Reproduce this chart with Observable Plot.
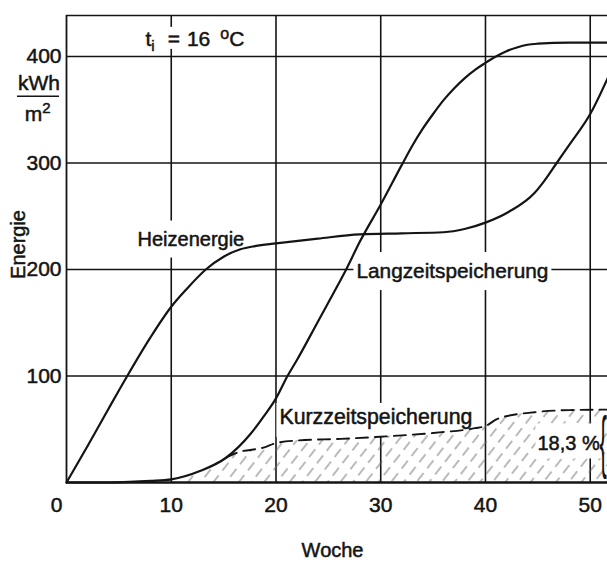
<!DOCTYPE html>
<html>
<head>
<meta charset="utf-8">
<script src="https://cdn.jsdelivr.net/npm/d3@7"></script>
<script src="https://cdn.jsdelivr.net/npm/@observablehq/plot@0.6"></script>
<style>
  html, body { margin: 0; padding: 0; background: #fff; }
  svg { display: block; }
</style>
</head>
<body>
<div id="chart"></div>
<script>
// ---- data ----
const heizWoche = [0, 2, 4, 5.8, 8, 10, 11.5, 13.3, 15, 16.6, 18, 20, 24, 28, 32, 36, 38, 40, 42.2, 44.7, 45.6, 46.8, 48, 50, 52];
const heizWert  = [0, 34, 69, 100, 136, 165, 182, 200, 212, 219, 222, 224.5, 229, 233, 234, 235, 238, 244, 254, 272, 283, 300, 317, 346, 387];

const kurveBWoche = [0, 4, 6, 8, 10, 12.8, 15.2, 17.6, 18.9, 20, 21.1, 22, 24, 26, 26.7, 28, 30, 32, 33, 34, 35, 36, 37, 38, 39, 40, 41, 42, 43, 44, 45, 48, 52];
const kurveBWert  = [0, 0, 0.5, 1.5, 3, 11, 23, 46, 63, 79, 100, 115, 151, 187, 200, 226, 261, 298, 316, 332, 346, 359, 370, 379.5, 387.5, 394, 400, 405, 408.5, 411, 412, 413, 413];

const kurzWoche = [15.2, 16.3, 18.9, 20, 22.1, 26.2, 30, 35, 39, 40, 41.2, 44.7, 48, 52];
const kurzWert  = [23, 28, 33, 37, 39.5, 41, 43, 46.5, 51, 53, 60, 66, 68, 68.5];

const xTicks = [0, 10, 20, 30, 40, 50];
const yTicks = [100, 200, 300, 400];
const xMax = 51.65, yMax = 438.5;

// ---- tables ----
const toRows = (w, v) => w.map((d, i) => ({woche: d, wert: v[i]}));
const heiz = toRows(heizWoche, heizWert);
const kurveB = toRows(kurveBWoche, kurveBWert);
const kurz = toRows(kurzWoche, kurzWert);
const hatch = kurveB.filter(d => d.woche >= 10 && d.woche < 15.2).concat(kurz);

const font = "'Liberation Sans', Arial, Helvetica, sans-serif";
const ink = "#141414";
const heavy = {stroke: ink, strokeWidth: 0.5};
const lab = (txt, x, y, opts = {}) =>
  Plot.text([txt], {x: () => x, y: () => y, text: d => d, fontSize: 20, fill: ink, ...heavy, ...opts});

const chart = Plot.plot({
  width: 607, height: 566,
  marginLeft: 66, marginRight: 0, marginTop: 15, marginBottom: 84,
  x: {domain: [0, xMax], axis: null},
  y: {domain: [0, yMax], axis: null},
  style: {fontFamily: font, fontSize: "20px", background: "#fff", color: ink},
  marks: [
    Plot.ruleY(yTicks, {stroke: ink, strokeWidth: 1.6}),
    Plot.ruleX(xTicks.slice(1), {stroke: ink, strokeWidth: 1.6}),
    Plot.ruleY([yMax], {stroke: ink, strokeWidth: 1.6}),
    Plot.ruleX([0], {stroke: ink, strokeWidth: 1.8}),
    Plot.areaY(hatch, {x: "woche", y: "wert", fill: "url(#hatch)", curve: "monotone-x"}),
    Plot.ruleY([0], {stroke: ink, strokeWidth: 2.4}),
    Plot.line(heiz, {x: "woche", y: "wert", stroke: ink, strokeWidth: 2.2, curve: "monotone-x"}),
    Plot.line(kurveB, {x: "woche", y: "wert", stroke: ink, strokeWidth: 2.2, curve: "monotone-x"}),
    Plot.line(kurz, {x: "woche", y: "wert", stroke: ink, strokeWidth: 1.9, strokeDasharray: "12,7", curve: "monotone-x"}),
    // tick labels
    Plot.text(yTicks, {x: 0, y: d => d, dx: -5, textAnchor: "end", text: d => String(d), fontSize: 21, fill: ink, ...heavy}),
    Plot.text(xTicks.slice(1), {x: d => d, y: 0, dy: 23, text: d => String(d), fontSize: 21, fill: ink, ...heavy}),
    Plot.text(xTicks.slice(0, 1), {x: d => d, y: 0, dy: 23, dx: -10, text: d => String(d), fontSize: 21, fill: ink, ...heavy}),
    // unit and axis titles
    lab("kWh", -2.63, 374.8, {fontSize: 21}),
    Plot.ruleY([362.7], {x1: -4.68, x2: -0.67, stroke: ink, strokeWidth: 1.6}),
    lab("m2", -2.75, 346, {fontSize: 21}),
    lab("Energie", -4.58, 223.5, {rotate: -90}),
    lab("Woche", 25.4, -63.8),
    // annotations
    lab("ti = 16 oC", 7.54, 416.3, {textAnchor: "start", fontSize: 21}),
    lab("Heizenergie", 6.78, 228.5, {textAnchor: "start"}),
    lab("Langzeitspeicherung", 27.68, 198.2, {textAnchor: "start", fontSize: 20.8}),
    lab("Kurzzeitspeicherung", 20.33, 61.4, {textAnchor: "start", fontSize: 21.3}),
    lab("18,3 %", 44.96, 36.1, {textAnchor: "start"}),
    lab("{", 50.88, 16.2, {textAnchor: "start", lineAnchor: "bottom", fontSize: 22, stroke: null})
  ]
});

document.getElementById("chart").appendChild(chart);
const ns = "http://www.w3.org/2000/svg";
const root = d3.select(chart);

// hatch pattern
root.insert("defs", ":first-child").html(
  `<pattern id="hatch" patternUnits="userSpaceOnUse" width="10" height="16" patternTransform="rotate(38)">
     <line x1="5" y1="0" x2="5" y2="16" stroke="#666" stroke-width="0.9" stroke-dasharray="10 6"/>
   </pattern>`);

const findText = s => root.selectAll("text").filter(function() { return this.textContent === s; }).node();

function richText(node, parts) {
  if (!node) return;
  node.textContent = "";
  for (const [txt, attrs] of parts) {
    const s = document.createElementNS(ns, "tspan");
    s.textContent = txt;
    for (const k in attrs) s.setAttribute(k, attrs[k]);
    node.appendChild(s);
  }
}

// title with subscript / superscript
const title = findText("ti = 16 oC");
richText(title, [
  ["t", {}],
  ["i", {"font-size": 15, dy: 5}],
  ["=", {dx: 13, dy: -5}],
  ["16", {dx: 7}],
  ["o", {"font-size": 16, dy: -7, dx: 10}],
  ["C", {dy: 7}]
]);
// unit m²
richText(findText("m2"), [
  ["m", {}],
  ["2", {"font-size": 15, dy: -8}]
]);

// tall brace
const brace = findText("{");
if (brace) {
  const px = chart.scale("x").apply(50.88), py = chart.scale("y").apply(16.2);
  const g = document.createElementNS(ns, "g");
  brace.parentNode.insertBefore(g, brace);
  g.appendChild(brace);
  g.setAttribute("transform", `translate(${px},${py}) scale(1,3.1) translate(${-px},${-py})`);
}

// white knock-out boxes behind labels
const svgBox = chart.getBoundingClientRect();
const firstArea = chart.querySelector('g[aria-label="area"]');
const firstLine = chart.querySelector('g[aria-label="line"]');
function knockout(node, before, px, top, bottom) {
  if (!node) return;
  const r = node.getBoundingClientRect();
  const rect = document.createElementNS(ns, "rect");
  rect.setAttribute("x", r.left - svgBox.left - px);
  rect.setAttribute("y", r.top - svgBox.top - top);
  rect.setAttribute("width", r.width + 2 * px);
  rect.setAttribute("height", Math.max(0, r.height + top + bottom));
  rect.setAttribute("fill", "#fff");
  chart.insertBefore(rect, before || chart.firstChild.nextSibling);
}
knockout(title, firstArea, 3, -2, -5);
knockout(findText("Heizenergie"), firstArea, 3, 7, 8);
knockout(findText("Langzeitspeicherung"), firstArea, 3, 7, 8);
knockout(findText("Kurzzeitspeicherung"), firstArea, 3, 2, 8);
knockout(findText("18,3 %"), firstLine, 2, 9, 4);
</script>
</body>
</html>
